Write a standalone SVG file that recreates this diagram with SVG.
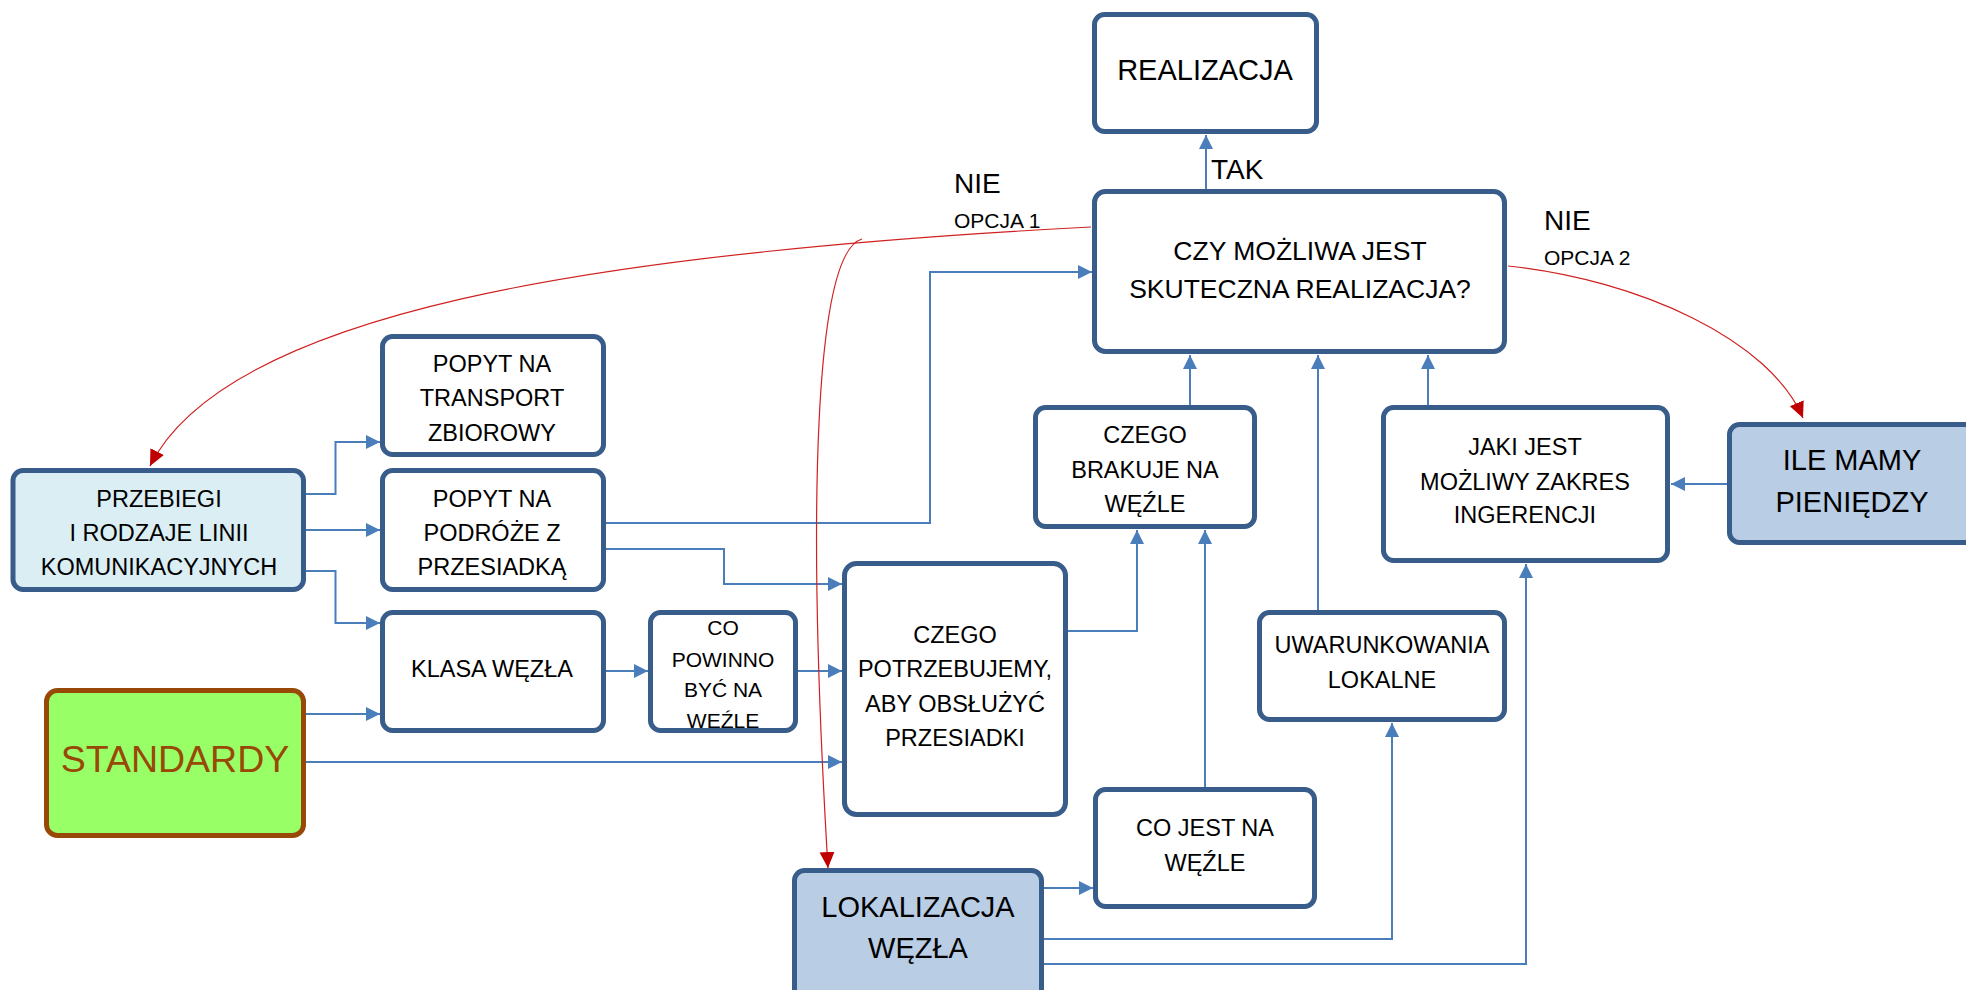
<svg xmlns="http://www.w3.org/2000/svg" width="1966" height="990" viewBox="0 0 1966 990">
<style>
.box{fill:#ffffff;stroke:#385d8a;stroke-width:5}
.nofill{fill:none;stroke:#385d8a;stroke-width:5}
.blue{fill:#b9cde5}
.cyan{fill:#dbeef4}
.t{font-family:"Liberation Sans",Arial,sans-serif;fill:#000000;text-anchor:middle}
.lbl{font-family:"Liberation Sans",Arial,sans-serif;fill:#000000}
.s24{font-size:23.5px}
.s29{font-size:29px}
.con{fill:none;stroke:#4a7ebb;stroke-width:2}
.red{fill:none;stroke:#d02020;stroke-width:1.2}
</style>
<defs>
<marker id="ab" markerUnits="userSpaceOnUse" markerWidth="16" markerHeight="16" refX="14" refY="7" orient="auto">
<path d="M0,0 L14,7 L0,14 Z" fill="#4a7ebb"/>
</marker>
<marker id="ar" markerUnits="userSpaceOnUse" markerWidth="18" markerHeight="18" refX="16" refY="7.5" orient="auto">
<path d="M0,0 L16,7.5 L0,15 Z" fill="#c00000"/>
</marker>
</defs>

<g id="connectors">
<path class="con" marker-end="url(#ab)" d="M1206,189 L1206,135"/>
<path class="con" marker-end="url(#ab)" d="M1190,405 L1190,355"/>
<path class="con" marker-end="url(#ab)" d="M1318,610 L1318,355"/>
<path class="con" marker-end="url(#ab)" d="M1428,405 L1428,355"/>
<path class="con" marker-end="url(#ab)" d="M1727,484 L1671,484"/>
<path class="con" marker-end="url(#ab)" d="M1044,964 L1526,964 L1526,564"/>
<path class="con" marker-end="url(#ab)" d="M1044,939 L1392,939 L1392,723"/>
<path class="con" marker-end="url(#ab)" d="M1044,888 L1093,888"/>
<path class="con" marker-end="url(#ab)" d="M1205,787 L1205,530"/>
<path class="con" marker-end="url(#ab)" d="M1068,631 L1137,631 L1137,530"/>
<path class="con" marker-end="url(#ab)" d="M606,523 L930,523 L930,272 L1092,272"/>
<path class="con" marker-end="url(#ab)" d="M606,549 L724,549 L724,584 L842,584"/>
<path class="con" marker-end="url(#ab)" d="M798,671 L842,671"/>
<path class="con" marker-end="url(#ab)" d="M306,762 L842,762"/>
<path class="con" marker-end="url(#ab)" d="M306,714 L380,714"/>
<path class="con" marker-end="url(#ab)" d="M606,671 L648,671"/>
<path class="con" marker-end="url(#ab)" d="M306,494 L335.5,494 L335.5,442 L380,442"/>
<path class="con" marker-end="url(#ab)" d="M306,530 L380,530"/>
<path class="con" marker-end="url(#ab)" d="M306,571 L335.5,571 L335.5,623 L380,623"/>
<path class="red" marker-end="url(#ar)" d="M1091,227 C591,253 226.5,313 150,466"/>
<path class="red" marker-end="url(#ar)" d="M862,239 C815,252 806,500 828,868"/>
<path class="red" marker-end="url(#ar)" d="M1508,266 C1640,280 1770,340 1803,418"/>
</g>

<g id="labels">
<text class="lbl" x="954" y="193" font-size="28">NIE</text>
<text class="lbl" x="954" y="228" font-size="21">OPCJA 1</text>
<text class="lbl" x="1211" y="179" font-size="28">TAK</text>
<text class="lbl" x="1544" y="230" font-size="28">NIE</text>
<text class="lbl" x="1544" y="265" font-size="21">OPCJA 2</text>
</g>

<g id="n-realizacja">
<rect class="box" x="1094.5" y="14.5" width="222" height="117" rx="10"/>
<text class="t" x="1205" y="80" font-size="29">REALIZACJA</text>
</g>

<g id="n-czy">
<rect class="box" x="1094.5" y="191.5" width="410" height="160" rx="11"/>
<text class="t" x="1300" y="260" font-size="26.5">CZY MOŻLIWA JEST</text>
<text class="t" x="1300" y="298" font-size="26.5">SKUTECZNA REALIZACJA?</text>
</g>

<g id="n-brakuje">
<rect class="box" x="1035.5" y="407.5" width="219" height="119" rx="10"/>
<text class="t s24" x="1145" y="443">CZEGO</text>
<text class="t s24" x="1145" y="478">BRAKUJE NA</text>
<text class="t s24" x="1145" y="512">WĘŹLE</text>
</g>

<g id="n-jaki">
<rect class="box" x="1383.5" y="407.5" width="284" height="153" rx="10"/>
<text class="t s24" x="1525" y="455">JAKI JEST</text>
<text class="t s24" x="1525" y="490">MOŻLIWY ZAKRES</text>
<text class="t s24" x="1525" y="523">INGERENCJI</text>
</g>

<g id="n-ile">
<rect class="box blue" x="1729.5" y="424.5" width="250" height="118" rx="10"/>
<text class="t s29" x="1852" y="470">ILE MAMY</text>
<text class="t s29" x="1852" y="512">PIENIĘDZY</text>
</g>

<g id="n-uwarunkowania">
<rect class="box" x="1259.5" y="612.5" width="245" height="107" rx="10"/>
<text class="t s24" x="1382" y="653">UWARUNKOWANIA</text>
<text class="t s24" x="1382" y="688">LOKALNE</text>
</g>

<g id="n-cojest">
<rect class="box" x="1095.5" y="789.5" width="219" height="117" rx="10"/>
<text class="t s24" x="1205" y="836">CO JEST NA</text>
<text class="t s24" x="1205" y="871">WĘŹLE</text>
</g>

<g id="n-potrzebujemy">
<rect class="box" x="844.5" y="563.5" width="221" height="251" rx="12"/>
<text class="t s24" x="955" y="643">CZEGO</text>
<text class="t s24" x="955" y="677">POTRZEBUJEMY,</text>
<text class="t s24" x="955" y="712">ABY OBSŁUŻYĆ</text>
<text class="t s24" x="955" y="746">PRZESIADKI</text>
</g>

<g id="n-powinno">
<rect x="650.5" y="612.5" width="145" height="118" rx="10" fill="#ffffff"/>
<text class="t" x="723" y="635" font-size="21">CO</text>
<text class="t" x="723" y="667" font-size="21">POWINNO</text>
<text class="t" x="723" y="697" font-size="21">BYĆ NA</text>
<text class="t" x="723" y="728" font-size="21">WĘŹLE</text>
<rect class="nofill" x="650.5" y="612.5" width="145" height="118" rx="10"/>
</g>

<g id="n-klasa">
<rect class="box" x="382.5" y="612.5" width="221" height="118" rx="10"/>
<text class="t s24" x="492" y="677">KLASA WĘZŁA</text>
</g>

<g id="n-transport">
<rect class="box" x="382.5" y="336.5" width="221" height="118" rx="10"/>
<text class="t s24" x="492" y="372">POPYT NA</text>
<text class="t s24" x="492" y="406">TRANSPORT</text>
<text class="t s24" x="492" y="441">ZBIOROWY</text>
</g>

<g id="n-przesiadka">
<rect class="box" x="382.5" y="470.5" width="221" height="119" rx="10"/>
<text class="t s24" x="492" y="507">POPYT NA</text>
<text class="t s24" x="492" y="541">PODRÓŻE Z</text>
<text class="t s24" x="492" y="575">PRZESIADKĄ</text>
</g>

<g id="n-przebiegi">
<rect class="box cyan" x="13" y="470.5" width="290.5" height="119" rx="10"/>
<text class="t s24" x="159" y="507">PRZEBIEGI</text>
<text class="t s24" x="159" y="541">I RODZAJE LINII</text>
<text class="t s24" x="159" y="575">KOMUNIKACYJNYCH</text>
</g>

<g id="n-standardy">
<rect x="46.5" y="690.5" width="257" height="145" rx="11" fill="#99ff66" stroke="#984807" stroke-width="5"/>
<text class="t" x="175" y="772" font-size="37.5" style="fill:#984807">STANDARDY</text>
</g>

<g id="n-lokalizacja">
<rect class="box blue" x="794.5" y="870.5" width="247" height="140" rx="10"/>
<text class="t s29" x="918" y="917">LOKALIZACJA</text>
<text class="t s29" x="918" y="958">WĘZŁA</text>
</g>
</svg>
